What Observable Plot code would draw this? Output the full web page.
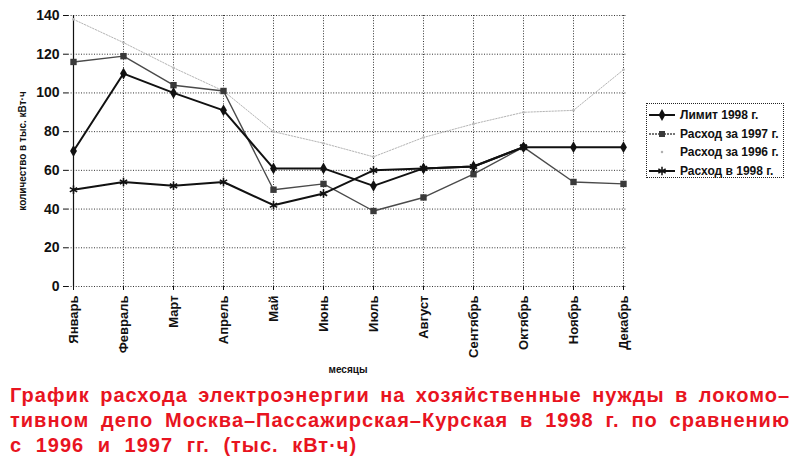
<!DOCTYPE html>
<html>
<head>
<meta charset="utf-8">
<script src="https://cdn.jsdelivr.net/npm/d3@7"></script>
<script src="https://cdn.jsdelivr.net/npm/@observablehq/plot@0.6"></script>
<style>
  html, body { margin: 0; padding: 0; background: #fff; }
  #wrap { position: relative; width: 800px; height: 470px; overflow: hidden; font-family: "Liberation Sans", Arial, sans-serif; }
  #chart svg { display: block; }
  #legend { position: absolute; left: 646px; top: 103px; width: 138px; height: 75px; box-sizing: border-box;
            border: 1px dotted #222; padding-top: 2px; font-size: 12px; font-weight: bold; color: #111; }
  #legend .row { height: 18.5px; line-height: 18.5px; display: flex; align-items: center; white-space: nowrap; }
  #legend svg { width: 26px; height: 12px; margin: 0 5px 0 2px; flex: none; }
  #title { padding: 3px 10px 0 10px; width: 780px; color: #e8141f; font-family: "Liberation Sans", Arial, sans-serif; font-weight: bold;
           font-size: 20px; line-height: 25px; letter-spacing: 1px; }
  #title .j { text-align: justify; text-align-last: justify; }
  #title .l { white-space: nowrap; word-spacing: 7px; }
</style>
</head>
<body>
<div id="wrap">
  <div id="chart"></div>
  <div id="legend"></div>
  <div id="title">
    <div class="j">График расхода электроэнергии на хозяйственные нужды в локомо–</div>
    <div class="j">тивном депо Москва–Пассажирская–Курская в 1998 г. по сравнению</div>
    <div class="l">с 1996 и 1997 гг. (тыс. кВт·ч)</div>
  </div>
</div>
<script>
const months = ["Январь","Февраль","Март","Апрель","Май","Июнь","Июль","Август","Сентябрь","Октябрь","Ноябрь","Декабрь"];
const limit1998 = [70, 110, 100, 91, 61, 61, 52, 61, 62, 72, 72, 72];
const rashod1997 = [116, 119, 104, 101, 50, 53, 39, 46, 58, 72, 54, 53];
const rashod1996 = [138, 126, 113, 101, 80, 74, 67, 77, 84, 90, 91, 112];
const rashod1998 = [50, 54, 52, 54, 42, 48, 60, 61, 62, 72];
const yTicks = [0, 20, 40, 60, 80, 100, 120, 140];
const seriesNames = ["Лимит 1998 г.", "Расход за 1997 г.", "Расход за 1996 г.", "Расход в 1998 г."];

const toRows = arr => arr.map((v, i) => ({month: months[i], value: v}));
const dLimit = toRows(limit1998);
const d1997 = toRows(rashod1997);
const d1996 = toRows(rashod1996);
const d1998 = toRows(rashod1998);

const grid = {stroke: "#111", strokeOpacity: 0.85, strokeWidth: 1, strokeDasharray: "1,1.6"};

const chart = Plot.plot({
  width: 800,
  height: 380,
  marginLeft: 68,
  marginRight: 173,
  marginTop: 15,
  marginBottom: 94,
  style: {fontFamily: "'Liberation Sans', Arial, sans-serif", color: "#111", background: "transparent"},
  x: {type: "point", domain: months, padding: 0},
  y: {domain: [0, 140]},
  marks: [
    Plot.gridY(yTicks, grid),
    Plot.gridX(months, grid),
    Plot.ruleX([months[0]], {stroke: "#111", strokeWidth: 1.2}),
    Plot.axisY({ticks: yTicks, tickSize: 5, tickPadding: 4, fontSize: 14,
                label: "количество в тыс. кВт·ч", labelAnchor: "center", labelArrow: "none", labelOffset: 50}),
    Plot.axisX({tickRotate: -90, tickSize: 4, tickPadding: 5, fontSize: 13, fontWeight: "bold",
                label: "месяцы", labelAnchor: "center", labelArrow: "none", labelOffset: 86}),
    // 1996
    Plot.line(d1996, {x: "month", y: "value", stroke: "#b4b4b4", strokeWidth: 1, strokeDasharray: "1.5,1.5"}),
    Plot.dot(d1996, {x: "month", y: "value", r: 1.3, fill: "#b8b8b8"}),
    // 1997
    Plot.line(d1997, {x: "month", y: "value", stroke: "#4a4a4a", strokeWidth: 1.4}),
    Plot.dot(d1997, {x: "month", y: "value", symbol: "square", r: 3.6, fill: "#3a3a3a"}),
    // 1998 expense
    Plot.line(d1998, {x: "month", y: "value", stroke: "#111", strokeWidth: 2}),
    Plot.dot(d1998, {x: "month", y: "value", symbol: "asterisk", r: 4, stroke: "#111", strokeWidth: 1.6}),
    // Limit
    Plot.line(dLimit, {x: "month", y: "value", stroke: "#111", strokeWidth: 2}),
    Plot.dot(dLimit, {x: "month", y: "value", symbol: "diamond", r: 3.6, fill: "#111"})
  ]
});
document.getElementById("chart").appendChild(chart);

const svgSel = d3.select(chart);
svgSel.selectAll('g[aria-label="y-axis label"] text, g[aria-label="x-axis label"] text')
  .attr("font-size", 10).attr("font-weight", "bold");
svgSel.selectAll('g[aria-label="y-axis tick label"] text').attr("font-weight", "bold");

// legend
const legendStyles = [
  {stroke: "#111", width: 2, dash: null, marker: "diamond", fill: "#111"},
  {stroke: "#4a4a4a", width: 1.4, dash: "2,1", marker: "square", fill: "#3a3a3a"},
  {stroke: "none", width: 1, dash: null, marker: "dot", fill: "#b0b0b0"},
  {stroke: "#111", width: 2, dash: null, marker: "asterisk", fill: "none"}
];
const legend = d3.select("#legend");
seriesNames.forEach((name, i) => {
  const st = legendStyles[i];
  const row = legend.append("div").attr("class", "row");
  const s = row.append("svg").attr("viewBox", "0 0 26 12");
  if (st.stroke !== "none") s.append("line").attr("x1", 0).attr("x2", 26).attr("y1", 6).attr("y2", 6)
    .attr("stroke", st.stroke).attr("stroke-width", st.width).attr("stroke-dasharray", st.dash);
  const sym = {diamond: d3.symbolDiamond, square: d3.symbolSquare, dot: d3.symbolCircle, asterisk: d3.symbolAsterisk}[st.marker];
  const size = {diamond: 40, square: 36, dot: 5, asterisk: 50}[st.marker];
  const p = s.append("path").attr("transform", "translate(13,6)").attr("d", d3.symbol(sym, size)());
  if (st.marker === "asterisk") p.attr("fill", "none").attr("stroke", "#111").attr("stroke-width", 1.5);
  else p.attr("fill", st.fill);
  row.append("span").text(name);
});
</script>
</body>
</html>
